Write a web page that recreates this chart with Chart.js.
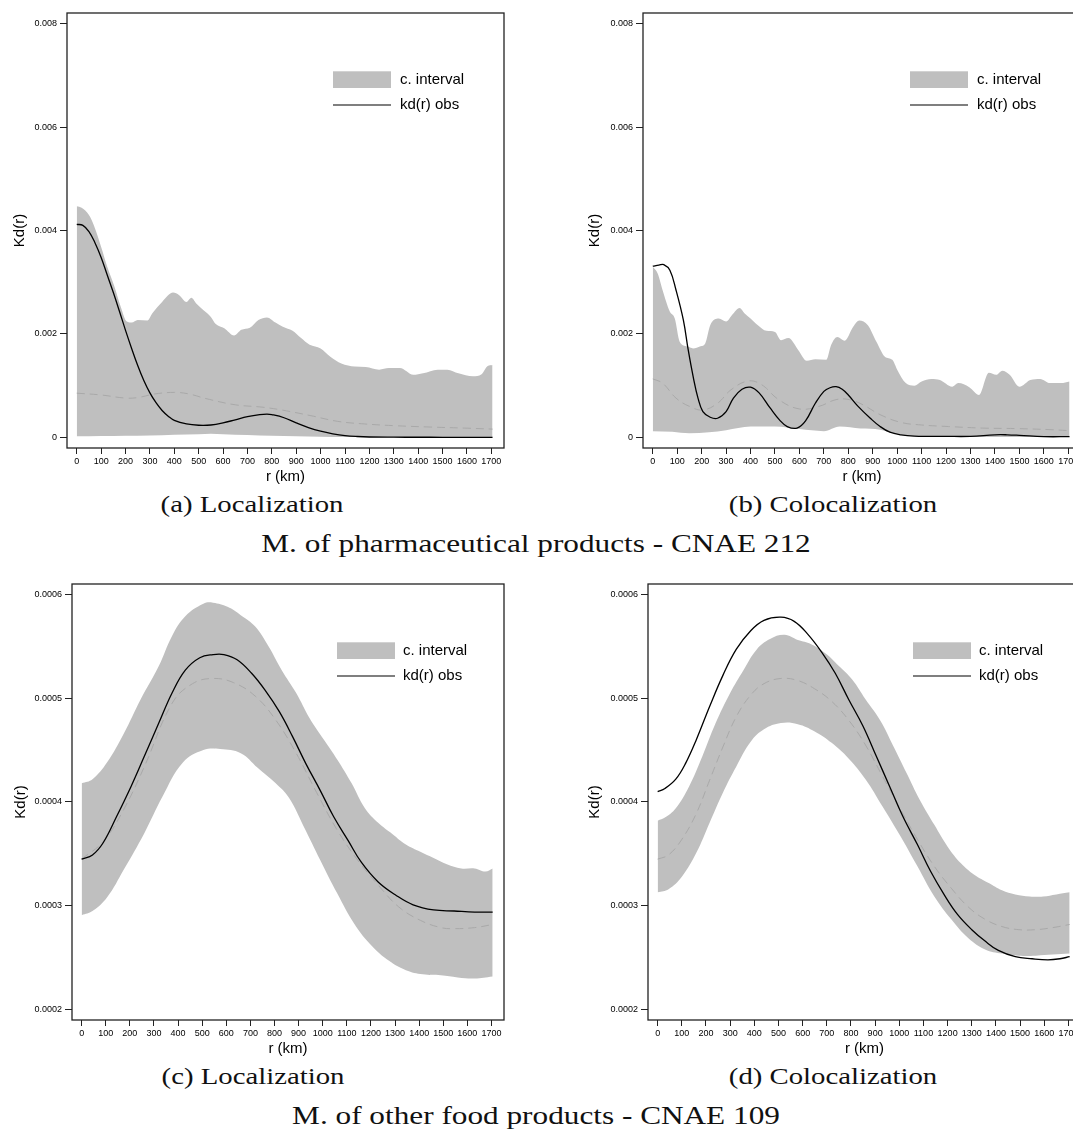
<!DOCTYPE html>
<html><head><meta charset="utf-8">
<script src="https://cdn.jsdelivr.net/npm/chart.js@4.4.1/dist/chart.umd.min.js"></script>
<style>
html,body{margin:0;padding:0;background:#fff;}
body{width:1073px;height:1133px;overflow:hidden;position:relative;}
canvas{position:absolute;}
.cap{position:absolute;font-family:'Liberation Serif','Times New Roman',serif;color:#111;white-space:nowrap;line-height:1;transform:translate(-50%,-50%) scaleX(1.25);}
</style></head>
<body>
<canvas id="ca" width="540" height="490" style="left:0;top:0"></canvas>
<canvas id="cb" width="540" height="490" style="left:575px;top:0"></canvas>
<canvas id="cc" width="540" height="502" style="left:0;top:560px"></canvas>
<canvas id="cd" width="540" height="502" style="left:575px;top:560px"></canvas>
<div class="cap" style="left:252px;top:504px;font-size:23px">(a) Localization</div>
<div class="cap" style="left:833px;top:504px;font-size:23px">(b) Colocalization</div>
<div class="cap" style="left:536px;top:543px;font-size:25px">M. of pharmaceutical products - CNAE 212</div>
<div class="cap" style="left:253px;top:1076px;font-size:23px">(c) Localization</div>
<div class="cap" style="left:833px;top:1076px;font-size:23px">(d) Colocalization</div>
<div class="cap" style="left:536px;top:1115px;font-size:25px">M. of other food products - CNAE 109</div>
<script>
// ---------- tick labels ----------
const xTicks = [0,100,200,300,400,500,600,700,800,900,1000,1100,1200,1300,1400,1500,1600,1700];
const xTickLabels = ['0','100','200','300','400','500','600','700','800','900','1000','1100','1200','1300','1400','1500','1600','1700'];
const yTicksTop = [0,0.002,0.004,0.006,0.008];
const yTickLabelsTop = ['0','0.002','0.004','0.006','0.008'];
const yTicksBottom = [0.0002,0.0003,0.0004,0.0005,0.0006];
const yTickLabelsBottom = ['0.0002','0.0003','0.0004','0.0005','0.0006'];
const legendLabels = ['c. interval','kd(r) obs'];
const xTitle = 'r (km)';
const yTitle = 'Kd(r)';

// ---------- (a) Localization, CNAE 212 ----------
const aObsR = [0,25,50,75,100,125,150,175,200,225,250,275,300,325,350,375,400,450,500,550,600,650,700,750,780,800,850,900,950,1000,1050,1100,1150,1200,1300,1400,1500,1600,1705];
const aObs  = [4.12e-3,4.10e-3,3.98e-3,3.76e-3,3.48e-3,3.14e-3,2.80e-3,2.44e-3,2.07e-3,1.72e-3,1.39e-3,1.10e-3,0.86e-3,0.67e-3,0.52e-3,0.41e-3,0.33e-3,0.26e-3,0.235e-3,0.24e-3,0.28e-3,0.34e-3,0.40e-3,0.44e-3,0.45e-3,0.44e-3,0.38e-3,0.28e-3,0.19e-3,0.12e-3,0.07e-3,0.035e-3,0.017e-3,0.008e-3,0.004e-3,0.003e-3,0.002e-3,0.002e-3,0.002e-3];
const aUpR  = [0,20,50,70,100,125,155,180,205,225,250,290,310,350,395,420,450,470,490,520,550,570,605,645,675,710,745,780,815,845,885,920,955,1000,1040,1085,1140,1185,1240,1280,1325,1380,1420,1480,1520,1565,1625,1660,1685,1705];
const aUp   = [4.47e-3,4.44e-3,4.30e-3,4.10e-3,3.68e-3,3.30e-3,2.91e-3,2.53e-3,2.24e-3,2.22e-3,2.27e-3,2.26e-3,2.40e-3,2.62e-3,2.80e-3,2.75e-3,2.62e-3,2.70e-3,2.59e-3,2.46e-3,2.33e-3,2.19e-3,2.11e-3,1.97e-3,2.08e-3,2.12e-3,2.27e-3,2.32e-3,2.22e-3,2.14e-3,2.06e-3,1.92e-3,1.79e-3,1.72e-3,1.56e-3,1.43e-3,1.37e-3,1.36e-3,1.31e-3,1.34e-3,1.34e-3,1.21e-3,1.24e-3,1.31e-3,1.31e-3,1.24e-3,1.18e-3,1.22e-3,1.38e-3,1.40e-3];
const aLoR  = [0,100,200,300,400,500,550,600,700,800,900,1000,1100,1200,1400,1705];
const aLo   = [0.02e-3,0.025e-3,0.03e-3,0.035e-3,0.05e-3,0.06e-3,0.07e-3,0.06e-3,0.045e-3,0.03e-3,0.02e-3,0.012e-3,0.006e-3,0.004e-3,0.003e-3,0.003e-3];
const aMeanR = [0,100,200,250,320,400,460,530,650,760,840,960,1070,1180,1310,1450,1590,1705];
const aMean  = [0.855e-3,0.82e-3,0.76e-3,0.77e-3,0.84e-3,0.87e-3,0.84e-3,0.75e-3,0.63e-3,0.585e-3,0.53e-3,0.42e-3,0.31e-3,0.26e-3,0.225e-3,0.20e-3,0.18e-3,0.16e-3];

// ---------- (b) Colocalization, CNAE 212 ----------
const bObsR = [0,25,45,70,95,125,145,165,185,205,235,265,300,330,365,400,435,480,520,550,590,625,665,700,725,750,775,800,840,890,930,970,1015,1070,1200,1300,1400,1450,1500,1600,1705];
const bObs  = [3.31e-3,3.33e-3,3.34e-3,3.23e-3,2.85e-3,2.27e-3,1.69e-3,1.18e-3,0.76e-3,0.50e-3,0.39e-3,0.37e-3,0.50e-3,0.76e-3,0.93e-3,0.97e-3,0.86e-3,0.57e-3,0.33e-3,0.21e-3,0.18e-3,0.32e-3,0.66e-3,0.89e-3,0.96e-3,0.98e-3,0.93e-3,0.82e-3,0.60e-3,0.37e-3,0.21e-3,0.10e-3,0.05e-3,0.026e-3,0.02e-3,0.02e-3,0.05e-3,0.05e-3,0.04e-3,0.015e-3,0.015e-3];
const bUpR  = [0,20,40,70,90,110,140,165,195,215,235,270,300,325,355,375,400,430,465,500,525,555,595,630,665,710,730,755,785,820,845,880,915,950,980,1000,1035,1070,1100,1140,1175,1225,1250,1295,1335,1375,1405,1430,1460,1500,1545,1585,1625,1670,1705];
const bUp   = [3.30e-3,3.17e-3,2.85e-3,2.43e-3,2.30e-3,1.85e-3,1.76e-3,1.72e-3,1.76e-3,1.82e-3,2.17e-3,2.30e-3,2.24e-3,2.37e-3,2.50e-3,2.40e-3,2.30e-3,2.17e-3,2.06e-3,2.04e-3,1.88e-3,1.92e-3,1.69e-3,1.48e-3,1.51e-3,1.50e-3,1.79e-3,1.94e-3,1.87e-3,2.14e-3,2.26e-3,2.17e-3,1.85e-3,1.56e-3,1.50e-3,1.31e-3,1.05e-3,1.00e-3,1.08e-3,1.13e-3,1.11e-3,0.98e-3,1.05e-3,0.97e-3,0.82e-3,1.25e-3,1.21e-3,1.29e-3,1.21e-3,0.98e-3,1.11e-3,1.13e-3,1.05e-3,1.05e-3,1.08e-3];
const bLoR  = [0,80,150,230,300,400,500,600,700,765,850,930,1000,1050,1100,1300,1705];
const bLo   = [0.12e-3,0.11e-3,0.08e-3,0.10e-3,0.14e-3,0.21e-3,0.21e-3,0.16e-3,0.12e-3,0.21e-3,0.17e-3,0.15e-3,0.06e-3,0.025e-3,0.015e-3,0.01e-3,0.01e-3];
const bMeanR = [0,40,95,150,205,265,320,390,445,515,600,680,750,805,860,930,1015,1100,1210,1350,1490,1625,1705];
const bMean  = [1.13e-3,1.05e-3,0.76e-3,0.60e-3,0.53e-3,0.66e-3,0.92e-3,1.09e-3,1.02e-3,0.73e-3,0.55e-3,0.60e-3,0.73e-3,0.73e-3,0.63e-3,0.44e-3,0.29e-3,0.24e-3,0.21e-3,0.18e-3,0.17e-3,0.15e-3,0.13e-3];

// ---------- (c) Localization, CNAE 109 ----------
const cObsR = [0,45,90,145,205,260,320,375,430,490,545,590,645,705,760,820,875,930,990,1045,1105,1160,1230,1305,1375,1460,1545,1630,1705];
const cObs  = [3.45e-4,3.49e-4,3.61e-4,3.86e-4,4.15e-4,4.44e-4,4.76e-4,5.05e-4,5.27e-4,5.39e-4,5.42e-4,5.42e-4,5.37e-4,5.24e-4,5.08e-4,4.87e-4,4.63e-4,4.37e-4,4.11e-4,3.86e-4,3.63e-4,3.42e-4,3.23e-4,3.10e-4,3.01e-4,2.96e-4,2.95e-4,2.94e-4,2.94e-4];
const cUpR  = [0,45,105,175,245,320,375,430,505,545,605,660,720,775,830,890,945,1005,1060,1120,1175,1230,1290,1345,1405,1460,1515,1575,1630,1675,1705];
const cUp   = [4.18e-4,4.22e-4,4.38e-4,4.66e-4,4.99e-4,5.31e-4,5.60e-4,5.79e-4,5.91e-4,5.92e-4,5.88e-4,5.80e-4,5.69e-4,5.50e-4,5.27e-4,5.05e-4,4.81e-4,4.60e-4,4.41e-4,4.18e-4,3.94e-4,3.80e-4,3.69e-4,3.59e-4,3.52e-4,3.46e-4,3.40e-4,3.36e-4,3.36e-4,3.33e-4,3.36e-4];
const cLoR  = [0,45,105,175,260,335,420,505,575,660,730,805,860,920,990,1060,1130,1205,1275,1345,1415,1490,1560,1630,1705];
const cLo   = [2.91e-4,2.95e-4,3.08e-4,3.35e-4,3.70e-4,4.05e-4,4.38e-4,4.50e-4,4.51e-4,4.47e-4,4.33e-4,4.18e-4,4.04e-4,3.77e-4,3.44e-4,3.12e-4,2.83e-4,2.61e-4,2.47e-4,2.38e-4,2.34e-4,2.33e-4,2.31e-4,2.30e-4,2.32e-4];
const cMeanR = [0,90,175,260,375,460,545,630,720,805,890,975,1060,1145,1230,1315,1405,1490,1545,1630,1705];
const cMean  = [3.45e-4,3.62e-4,3.93e-4,4.34e-4,4.95e-4,5.14e-4,5.19e-4,5.15e-4,5.02e-4,4.79e-4,4.47e-4,4.09e-4,3.73e-4,3.44e-4,3.20e-4,2.99e-4,2.86e-4,2.79e-4,2.78e-4,2.79e-4,2.82e-4];

// ---------- (d) Colocalization, CNAE 109 ----------
const dObsR = [0,30,75,115,160,215,270,325,385,440,510,565,620,680,735,790,850,905,960,1015,1075,1130,1185,1240,1300,1355,1410,1480,1550,1615,1665,1705];
const dObs  = [4.10e-4,4.13e-4,4.22e-4,4.37e-4,4.60e-4,4.92e-4,5.22e-4,5.47e-4,5.65e-4,5.75e-4,5.78e-4,5.74e-4,5.62e-4,5.44e-4,5.24e-4,4.99e-4,4.73e-4,4.44e-4,4.15e-4,3.86e-4,3.59e-4,3.33e-4,3.11e-4,2.92e-4,2.77e-4,2.66e-4,2.57e-4,2.51e-4,2.49e-4,2.48e-4,2.49e-4,2.51e-4];
const dUpR  = [0,30,75,130,185,240,300,355,410,465,525,580,635,695,750,805,860,920,975,1030,1085,1145,1200,1255,1310,1370,1425,1480,1540,1595,1650,1705];
const dUp   = [3.82e-4,3.85e-4,3.94e-4,4.15e-4,4.44e-4,4.76e-4,5.05e-4,5.27e-4,5.47e-4,5.57e-4,5.61e-4,5.56e-4,5.52e-4,5.43e-4,5.31e-4,5.18e-4,4.99e-4,4.79e-4,4.54e-4,4.28e-4,4.02e-4,3.78e-4,3.57e-4,3.41e-4,3.30e-4,3.22e-4,3.15e-4,3.11e-4,3.09e-4,3.09e-4,3.11e-4,3.13e-4];
const dLoR  = [0,45,100,160,215,270,325,385,440,510,580,650,720,790,860,930,1005,1075,1145,1215,1285,1355,1425,1495,1565,1635,1705];
const dLo   = [3.13e-4,3.16e-4,3.28e-4,3.51e-4,3.80e-4,4.09e-4,4.34e-4,4.58e-4,4.70e-4,4.76e-4,4.75e-4,4.68e-4,4.57e-4,4.42e-4,4.22e-4,3.96e-4,3.67e-4,3.38e-4,3.09e-4,2.87e-4,2.69e-4,2.58e-4,2.54e-4,2.52e-4,2.52e-4,2.53e-4,2.54e-4];
const dMeanR = [0,45,100,160,215,270,325,385,440,510,580,650,720,790,860,930,1005,1075,1145,1215,1285,1355,1425,1495,1565,1635,1705];
const dMean  = [3.45e-4,3.49e-4,3.64e-4,3.89e-4,4.21e-4,4.53e-4,4.82e-4,5.03e-4,5.14e-4,5.19e-4,5.17e-4,5.09e-4,4.97e-4,4.79e-4,4.55e-4,4.25e-4,3.93e-4,3.64e-4,3.38e-4,3.17e-4,2.99e-4,2.87e-4,2.80e-4,2.77e-4,2.77e-4,2.79e-4,2.82e-4];

// ---------- drawing ----------
const BAND = '#bfbfbf';
Chart.defaults.font.family = "'Liberation Sans', Arial, Helvetica, sans-serif";
Chart.defaults.color = '#000';

const pts = (r, v) => r.map((x, i) => ({x: x, y: v[i]}));

const framePlugin = {
  id: 'frame',
  afterDatasetsDraw(c) {
    const a = c.chartArea, ctx = c.ctx;
    ctx.save();
    ctx.strokeStyle = '#222';
    ctx.lineWidth = 1.3;
    ctx.strokeRect(a.left, a.top, a.right - a.left, a.bottom - a.top);
    ctx.restore();
  }
};
const keyPlugin = {
  id: 'key',
  afterDraw(c, args, o) {
    const a = c.chartArea, ctx = c.ctx;
    const bx = a.left + o.bx, tx = a.left + o.tx;
    ctx.save();
    ctx.fillStyle = BAND;
    ctx.fillRect(bx, a.top + 58.3, 58, 16.7);
    ctx.strokeStyle = '#000';
    ctx.lineWidth = 1.1;
    ctx.beginPath();
    ctx.moveTo(bx, a.top + 92);
    ctx.lineTo(bx + 58, a.top + 92);
    ctx.stroke();
    ctx.fillStyle = '#000';
    ctx.font = "15px 'Liberation Sans', Arial, sans-serif";
    ctx.textBaseline = 'middle';
    ctx.fillText(legendLabels[0], tx, a.top + 67);
    ctx.fillText(legendLabels[1], tx, a.top + 92);
    ctx.restore();
  }
};

function panel(id, o) {
  const smooth = {tension: 0.4, cubicInterpolationMode: 'default'};
  const bandCurve = o.bumpyBand ? {cubicInterpolationMode: 'monotone'} : smooth;
  const datasets = [
    Object.assign({label: legendLabels[1], data: pts(o.obsR, o.obs), borderColor: '#000', borderWidth: 1.3,
     pointRadius: 0, fill: false}, smooth),
    Object.assign({label: 'mean', data: pts(o.meanR, o.mean), borderColor: '#a9a9a9', borderWidth: 1,
     borderDash: [8, 5], pointRadius: 0, fill: false}, smooth),
    Object.assign({label: legendLabels[0], data: pts(o.upR, o.up), borderColor: 'rgba(0,0,0,0)', borderWidth: 0,
     backgroundColor: BAND, pointRadius: 0, fill: '+1'}, bandCurve),
    Object.assign({label: 'lower', data: pts(o.loR, o.lo), borderColor: 'rgba(0,0,0,0)', borderWidth: 0,
     backgroundColor: BAND, pointRadius: 0, fill: false}, bandCurve)
  ];
  return new Chart(document.getElementById(id), {
    type: 'line',
    data: {datasets: datasets},
    plugins: [framePlugin, keyPlugin],
    options: {
      responsive: false, animation: false, events: [],
      layout: {padding: {top: o.padTop, right: o.padRight, left: 0, bottom: 0}},
      plugins: {legend: {display: false}, tooltip: {enabled: false},
                key: {bx: o.keyBx, tx: o.keyTx}},
      scales: {
        x: {
          type: 'linear', min: -40, max: 1752,
          afterBuildTicks: s => { s.ticks = xTicks.map(v => ({value: v})); },
          afterFit: s => { s.height = o.xAxisH; },
          ticks: {autoSkip: false, maxRotation: 0, minRotation: 0, padding: 2,
                  font: {size: 9}, callback: (v, i) => xTickLabels[i]},
          grid: {drawOnChartArea: false, drawTicks: true, tickLength: 6, tickColor: '#222', tickWidth: 1},
          border: {display: false},
          title: {display: true, text: xTitle, font: {size: 15}, padding: {top: 0, bottom: 4}}
        },
        y: {
          type: 'linear', min: o.yMin, max: o.yMax,
          afterBuildTicks: s => { s.ticks = o.yTicks.map(v => ({value: v})); },
          afterFit: s => { s.width = o.yAxisW; },
          ticks: {autoSkip: false, padding: 3, font: {size: 9},
                  callback: (v, i) => o.yLabels[i]},
          grid: {drawOnChartArea: false, drawTicks: true, tickLength: 7, tickColor: '#222', tickWidth: 1},
          border: {display: false},
          title: {display: true, text: yTitle, font: {size: 15}, padding: {top: o.yTitlePad, bottom: 0}}
        }
      }
    }
  });
}

panel('ca', {obsR: aObsR, obs: aObs, upR: aUpR, up: aUp, loR: aLoR, lo: aLo, meanR: aMeanR, mean: aMean,
  bumpyBand: true, yMin: -0.000205, yMax: 0.008205, yTicks: yTicksTop, yLabels: yTickLabelsTop,
  padTop: 13, padRight: 36, xAxisH: 42, yAxisW: 67, yTitlePad: 10.4, keyBx: 266, keyTx: 333});
panel('cb', {obsR: bObsR, obs: bObs, upR: bUpR, up: bUp, loR: bLoR, lo: bLo, meanR: bMeanR, mean: bMean,
  bumpyBand: true, yMin: -0.000205, yMax: 0.008205, yTicks: yTicksTop, yLabels: yTickLabelsTop,
  padTop: 13, padRight: 34, xAxisH: 42, yAxisW: 68, yTitlePad: 10.4, keyBx: 267, keyTx: 334});
panel('cc', {obsR: cObsR, obs: cObs, upR: cUpR, up: cUp, loR: cLoR, lo: cLo, meanR: cMeanR, mean: cMean,
  bumpyBand: false, yMin: 0.00019, yMax: 0.00061, yTicks: yTicksBottom, yLabels: yTickLabelsBottom,
  padTop: 24, padRight: 36, xAxisH: 42, yAxisW: 72, yTitlePad: 12.3, keyBx: 265, keyTx: 331});
panel('cd', {obsR: dObsR, obs: dObs, upR: dUpR, up: dUp, loR: dLoR, lo: dLo, meanR: dMeanR, mean: dMean,
  bumpyBand: false, yMin: 0.00019, yMax: 0.00061, yTicks: yTicksBottom, yLabels: yTickLabelsBottom,
  padTop: 24, padRight: 34, xAxisH: 42, yAxisW: 73, yTitlePad: 10.4, keyBx: 265, keyTx: 331});
</script>
</body></html>
